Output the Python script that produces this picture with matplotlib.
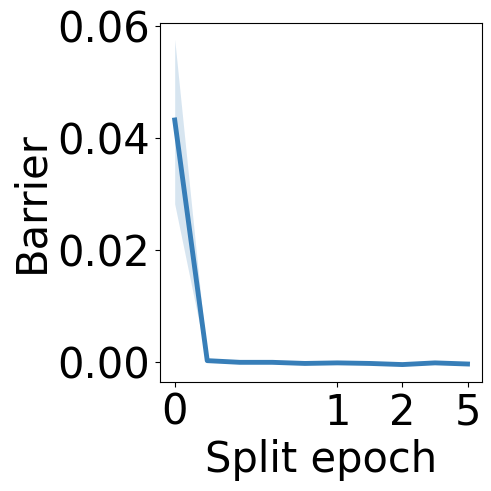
import matplotlib
matplotlib.use("Agg")
import matplotlib.pyplot as plt
import numpy as np

# split epochs (plotted at equal spacing by index)
split_epochs = [0, 0.2, 0.4, 0.6, 0.8, 1, 1.5, 2, 3, 5]
tick_epochs = [0, 1, 2, 5]
barrier_mean = [0.0432, 0.0002, -0.0001, -0.0001, -0.0003, -0.0002, -0.0003, -0.0005, -0.0002, -0.0004]
barrier_low = [0.0282, 0.0000, -0.0003, -0.0003, -0.0005, -0.0004, -0.0005, -0.0007, -0.0004, -0.0006]
barrier_high = [0.0576, 0.0004, 0.0001, 0.0001, -0.0001, 0.0000, -0.0001, -0.0003, 0.0000, -0.0002]

color = "#377eb8"
plt.rcParams["font.size"] = 30

fig = plt.figure(figsize=(4.91, 4.91), dpi=100)
ax = fig.add_axes([0.326, 0.222, 0.656, 0.731])

x = np.arange(len(split_epochs))
ax.fill_between(x, barrier_low, barrier_high, color=color, alpha=0.2, linewidth=0)
ax.plot(x, barrier_mean, color=color, linewidth=3.5)

ax.set_xticks([split_epochs.index(e) for e in tick_epochs])
ax.set_xticklabels([str(e) for e in tick_epochs])
ax.set_yticks([0.0, 0.02, 0.04, 0.06])
ax.set_yticklabels(["0.00", "0.02", "0.04", "0.06"])
ax.set_xlabel("Split epoch")
ax.set_ylabel("Barrier")

fig.savefig("out.png", dpi=100)
